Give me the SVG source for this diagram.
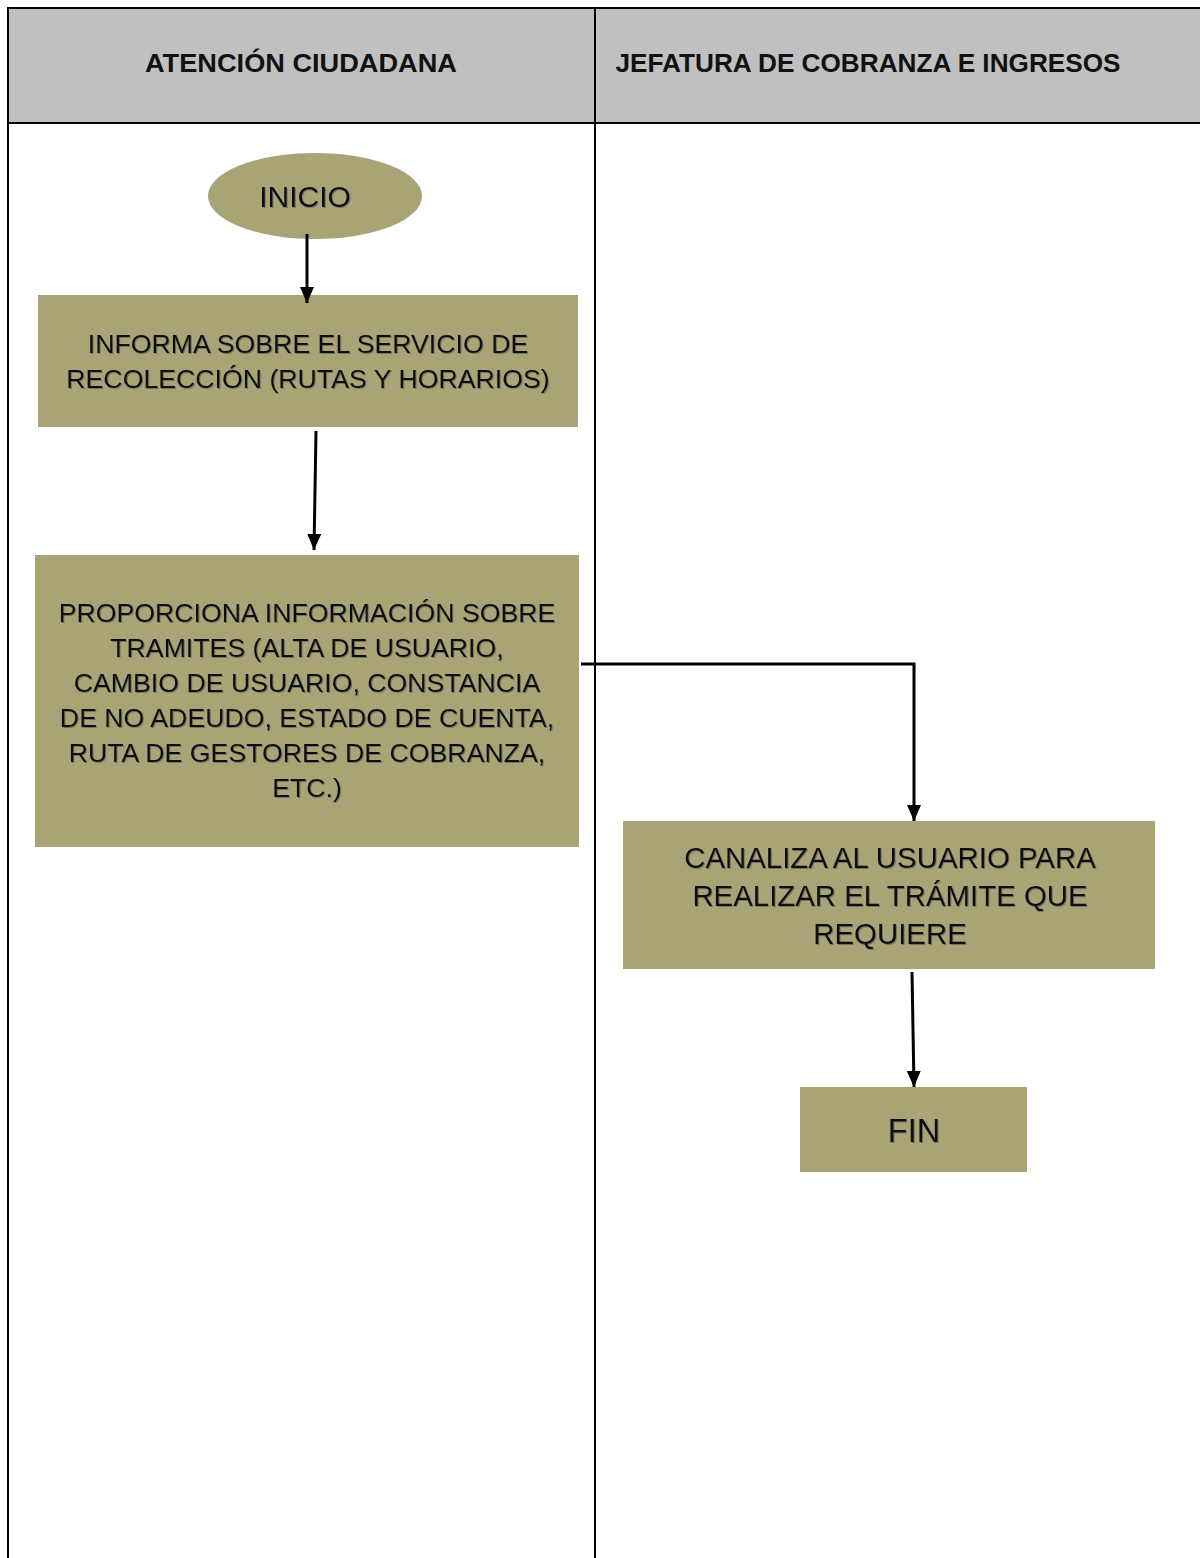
<svg xmlns="http://www.w3.org/2000/svg" width="1200" height="1558" viewBox="0 0 1200 1558">
<defs>
<style>
.hdr{font-family:"Liberation Sans",Arial,sans-serif;font-weight:bold;font-size:26px;fill:#111;text-anchor:middle}
.lbl{font-family:"Liberation Sans",Arial,sans-serif;font-size:26.7px;fill:#111;text-anchor:middle;filter:url(#sh)}
.node{fill:#a9a476}
.grid{stroke:#000;stroke-width:2;fill:none}
.conn{stroke:#000;stroke-width:3;fill:none}
</style>
<filter id="sh" x="-5%" y="-20%" width="110%" height="140%">
<feDropShadow dx="1" dy="1" stdDeviation="0.6" flood-color="#555" flood-opacity="0.6"/>
</filter>
<marker id="ah" viewBox="0 0 16 16" refX="16" refY="8" markerWidth="16" markerHeight="16" orient="auto" markerUnits="userSpaceOnUse">
<path d="M0,1 L16,8 L0,15 z" fill="#000"/>
</marker>
</defs>
<rect width="1200" height="1558" fill="#fff"/>
<g id="lanes">
<rect x="8" y="8" width="1200" height="115" fill="#c0c0c0"/>
<path class="grid" d="M8,1558 V8 H1202 M8,123 H1202 M595,8 V1558"/>
<text class="hdr" x="301" y="72" textLength="312" lengthAdjust="spacingAndGlyphs">ATENCIÓN CIUDADANA</text>
<text class="hdr" x="868" y="72" textLength="505" lengthAdjust="spacingAndGlyphs">JEFATURA DE COBRANZA E INGRESOS</text>
</g>
<g id="inicio">
<ellipse class="node" cx="315" cy="196" rx="107" ry="43"/>
<text class="lbl" x="305" y="207" style="font-size:30px">INICIO</text>
</g>
<g id="informa">
<rect class="node" x="38" y="295" width="540" height="132"/>
<text class="lbl" x="308" y="353">INFORMA SOBRE EL SERVICIO DE</text>
<text class="lbl" x="308" y="388">RECOLECCIÓN (RUTAS Y HORARIOS)</text>
</g>
<g id="proporciona">
<rect class="node" x="35" y="555" width="544" height="292"/>
<text class="lbl" x="307" y="622">PROPORCIONA INFORMACIÓN SOBRE</text>
<text class="lbl" x="307" y="657">TRAMITES (ALTA DE USUARIO,</text>
<text class="lbl" x="307" y="692">CAMBIO DE USUARIO, CONSTANCIA</text>
<text class="lbl" x="307" y="727">DE NO ADEUDO, ESTADO DE CUENTA,</text>
<text class="lbl" x="307" y="762">RUTA DE GESTORES DE COBRANZA,</text>
<text class="lbl" x="307" y="797">ETC.)</text>
</g>
<g id="canaliza">
<rect class="node" x="623" y="821" width="532" height="148"/>
<text class="lbl" x="890" y="868" style="font-size:29.4px">CANALIZA AL USUARIO PARA</text>
<text class="lbl" x="890" y="906" style="font-size:29.4px">REALIZAR EL TRÁMITE QUE</text>
<text class="lbl" x="890" y="944" style="font-size:29.4px">REQUIERE</text>
</g>
<g id="fin">
<rect class="node" x="800" y="1087" width="227" height="85"/>
<text class="lbl" x="914" y="1142" style="font-size:32.5px">FIN</text>
</g>
<g id="connectors">
<path class="conn" d="M307,234 V303" marker-end="url(#ah)"/>
<path class="conn" d="M316,431 L314,550" marker-end="url(#ah)"/>
<path class="conn" d="M581,664 H914 V821" marker-end="url(#ah)"/>
<path class="conn" d="M912,972 L914,1087" marker-end="url(#ah)"/>
</g>
</svg>
